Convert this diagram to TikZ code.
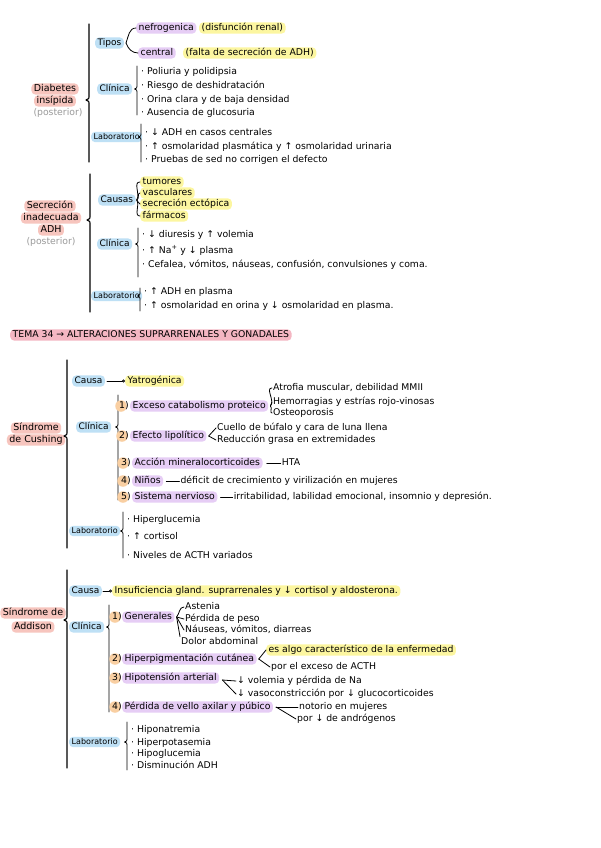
\documentclass[tikz,border=0pt]{standalone}
\usepackage{fontspec}
\setmainfont{DejaVu Sans}
\usetikzlibrary{arrows.meta}
\definecolor{hred}{HTML}{F7C5BE}
\definecolor{hblue}{HTML}{BEE0F5}
\definecolor{hpurple}{HTML}{E6CDF5}
\definecolor{hyellow}{HTML}{FCF6A0}
\definecolor{horange}{HTML}{F9CFA2}
\definecolor{htitle}{HTML}{F4B6C2}
\definecolor{gtext}{HTML}{9A9A9A}
\newcommand{\fs}{\fontsize{9.3}{10}\selectfont}
\newcommand{\fl}{\fontsize{8}{9}\selectfont}
\newcommand{\fc}{\fontsize{9}{10}\selectfont}
\newcommand{\fb}{\fontsize{9.5}{10}\selectfont}
\newcommand{\mybrace}[4]{\draw[brc] (#1,#2) -- (#1,#3-5) .. controls (#1,#3-1) .. (#1-3,#3) .. controls (#1,#3+1) .. (#1,#3+5) -- (#1,#4);}
\newcommand{\smbrace}[4]{\draw[sbrc] (#1,#2) -- (#1,#3-3) .. controls (#1,#3-1) .. (#1-2.5,#3) .. controls (#1,#3+1) .. (#1,#3+3) -- (#1,#4);}
\begin{document}
\begin{tikzpicture}[x=1pt,y=-1pt,
  t/.style={anchor=west,inner sep=1pt,font=\fs,text height=6.6pt,text depth=1.8pt},
  hl/.style={t,rounded corners=4pt,inner xsep=2.5pt,inner ysep=1.4pt},
  hlred/.style={hl,fill=hred,font=\fb,anchor=center},
  hlblue/.style={hl,fill=hblue,font=\fc},
  hllab/.style={hl,fill=hblue,font=\fl,text height=6pt,text depth=1.6pt},
  hlpurple/.style={hl,fill=hpurple},
  hlyellow/.style={hl,fill=hyellow},
  numc/.style={circle,fill=horange,inner sep=0pt,minimum size=11.5pt},
  numt/.style={t,anchor=center},
  brc/.style={line width=1.1pt,line cap=round,line join=round},
  sbrc/.style={line width=0.8pt,line cap=round,line join=round},
  fan/.style={line width=0.8pt,line cap=round}]
\useasboundingbox (0,0) rectangle (600,848);
\fill[white] (0,0) rectangle (600,848);

%% ---------- Diabetes insipida
\node[hlred] (di1) at (55,89) {Diabetes};
\node[hlred] (di2) at (55,101) {insípida};
\node[t,anchor=center,text=gtext] (di3) at (58,113) {(posterior)};
\mybrace{89}{24}{100}{162}
\node[hlblue] (tipos) at (95,43) {Tipos};
\node[hlpurple] (nefro) at (136,28) {nefrogenica};
\node[hlyellow] (nefro2) at (199,28) {(disfunción renal)};
\node[hlpurple] (central) at (138,53) {central};
\node[hlyellow] (central2) at (183,53) {(falta de secreción de ADH)};
\draw[fan] (tipos.east) ++(2,0) coordinate (tp) to[out=70,in=180] (nefro.west);
\draw[fan] (tp) to[out=-70,in=180] (central.west);
\node[hlblue] (cl1) at (97,89) {Clínica};
\smbrace{137}{66}{89}{115}
\node[t] (cl1a) at (140,72) {· Poliuria y polidipsia};
\node[t] (cl1b) at (140,86) {· Riesgo de deshidratación};
\node[t] (cl1c) at (140,100) {· Orina clara y de baja densidad};
\node[t] (cl1d) at (140,113) {· Ausencia de glucosuria};
\node[hllab] (lab1) at (91,137) {Laboratorio};
\smbrace{141}{124}{137}{162}
\node[t] (lab1a) at (144,133) {· ↓ ADH en casos centrales};
\node[t] (lab1b) at (144,147) {· ↑ osmolaridad plasmática y ↑ osmolaridad urinaria};
\node[t] (lab1c) at (144,160) {· Pruebas de sed no corrigen el defecto};

%% ---------- SIADH
\node[hlred] (si1) at (50,206) {Secreción};
\node[hlred] (si2) at (51,218) {inadecuada};
\node[hlred] (si3) at (51,230) {ADH};
\node[t,anchor=center,text=gtext] (si4) at (51,242) {(posterior)};
\mybrace{90}{174}{220}{312}
\node[hlblue] (caus2) at (98,200) {Causas};
\node[hlyellow] (ca1) at (140,182) {tumores};
\node[hlyellow] (ca2) at (140,193) {vasculares};
\node[hlyellow] (ca3) at (140,204) {secreción ectópica};
\node[hlyellow] (ca4) at (140,216) {fármacos};
\draw[fan] (caus2.east) ++(1,0) coordinate (cp) to[out=60,in=180] (ca1.west);
\draw[fan] (cp) to[out=20,in=180] (ca2.west);
\draw[fan] (cp) to[out=-20,in=180] (ca3.west);
\draw[fan] (cp) to[out=-60,in=180] (ca4.west);
\node[hlblue] (cl2) at (97,244) {Clínica};
\smbrace{138}{228}{244}{277}
\node[t] (cl2a) at (141,235) {· ↓ diuresis y ↑ volemia};
\node[t] (cl2b) at (141,251) {· ↑ Na\textsuperscript{+} y ↓ plasma};
\node[t] (cl2c) at (141,265) {· Cefalea, vómitos, náuseas, confusión, convulsiones y coma.};
\node[hllab] (lab2) at (91,296) {Laboratorio};
\smbrace{140}{288}{296}{311}
\node[t] (lab2a) at (143,292) {· ↑ ADH en plasma};
\node[t] (lab2b) at (143,306) {· ↑ osmolaridad en orina y ↓ osmolaridad en plasma.};

%% ---------- Title
\node[hl,fill=htitle] (tema) at (10,335) {TEMA 34 → ALTERACIONES SUPRARRENALES Y GONADALES};

%% ---------- Cushing
\node[hlred] (cu1) at (36,428) {Síndrome};
\node[hlred] (cu2) at (36,440) {de Cushing};
\mybrace{67}{360}{436}{548}
\node[hlblue] (caus3) at (72,381) {Causa};
\node[hlyellow] (yatro) at (125,381) {Yatrogénica};
\draw[fan,-{Circle[open,length=3pt]}] (caus3.east) ++(2,0) -- (yatro.west);
\node[hlblue] (cl3) at (76,427) {Clínica};
\smbrace{118}{395}{427}{500}
\node[numc] (n1) at (121,406) {};
\node[numt] at (124,406) {1)};
\node[hlpurple] (cu11) at (130,406) {Exceso catabolismo proteico};
\node[t] (cu11a) at (272,388) {Atrofia muscular, debilidad MMII};
\node[t] (cu11b) at (272,402) {Hemorragias y estrías rojo-vinosas};
\node[t] (cu11c) at (272,413) {Osteoporosis};
\draw[fan] (cu11.east) ++(2,0) coordinate (f1) to[out=45,in=180] (cu11a.west);
\draw[fan] (f1) -- (cu11b.west);
\draw[fan] (f1) to[out=-30,in=180] (cu11c.west);
\node[numc] (n2) at (122,436) {};
\node[numt] at (124,436) {2)};
\node[hlpurple] (cu12) at (130,436) {Efecto lipolítico};
\node[t] (cu12a) at (216,428) {Cuello de búfalo y cara de luna llena};
\node[t] (cu12b) at (216,440) {Reducción grasa en extremidades};
\draw[fan] (cu12.east) ++(2,0) coordinate (f2) -- (cu12a.west);
\draw[fan] (f2) -- (cu12b.west);
\node[numc] (n3) at (123,463) {};
\node[numt] at (126,463) {3)};
\node[hlpurple] (cu13) at (132,463) {Acción mineralocorticoides};
\path (cu13.east) ++(18,0) node[t] (cu13a) {HTA};
\draw[fan] (cu13.east) ++(4,0) -- (cu13a.west);
\node[numc] (n4) at (123,481) {};
\node[numt] at (126,481) {4)};
\node[hlpurple] (cu14) at (132,481) {Niños};
\path (cu14.east) ++(16,0) node[t] (cu14a) {déficit de crecimiento y virilización en mujeres};
\draw[fan] (cu14.east) ++(3,0) -- (cu14a.west);
\node[numc] (n5) at (123,497) {};
\node[numt] at (126,497) {5)};
\node[hlpurple] (cu15) at (132,497) {Sistema nervioso};
\path (cu15.east) ++(15,0) node[t] (cu15a) {irritabilidad, labilidad emocional, insomnio y depresión.};
\draw[fan] (cu15.east) ++(3,0) -- (cu15a.west);
\node[hllab] (lab3) at (69,531) {Laboratorio};
\smbrace{123}{512}{531}{558}
\node[t] (lab3a) at (126,520) {· Hiperglucemia};
\node[t] (lab3b) at (126,537) {· ↑ cortisol};
\node[t] (lab3c) at (126,556) {· Niveles de ACTH variados};

%% ---------- Addison
\node[hlred] (ad1) at (33,613) {Síndrome de};
\node[hlred] (ad2) at (33,627) {Addison};
\mybrace{67}{570}{620}{768}
\node[hlblue] (caus4) at (69,591) {Causa};
\node[hlyellow] (ins) at (112,591) {Insuficiencia gland. suprarrenales y ↓ cortisol y aldosterona.};
\draw[fan,-{Circle[open,length=3pt]}] (caus4.east) ++(1,0) -- (ins.west);
\node[hlblue] (cl4) at (69,627) {Clínica};
\smbrace{109}{605}{627}{712}
\node[numc] (m1) at (115,617) {};
\node[numt] at (117,617) {1)};
\node[hlpurple] (ad11) at (122,617) {Generales};
\node[t] (ad11a) at (184,607) {Astenia};
\node[t] (ad11b) at (184,619) {Pérdida de peso};
\node[t] (ad11c) at (184,630) {Náuseas, vómitos, diarreas};
\node[t] (ad11d) at (180,642) {Dolor abdominal};
\draw[fan] (ad11.east) ++(2,0) coordinate (g1) to[out=50,in=180] (ad11a.west);
\draw[fan] (g1) -- (ad11b.west);
\draw[fan] (g1) -- (ad11c.west);
\draw[fan] (g1) -- (ad11d.north west);
\node[numc] (m2) at (115,659) {};
\node[numt] at (117,659) {2)};
\node[hlpurple] (ad12) at (122,659) {Hiperpigmentación cutánea};
\node[hlyellow] (ad12a) at (266,650) {es algo característico de la enfermedad};
\node[t] (ad12b) at (270,667) {por el exceso de ACTH};
\draw[fan] (ad12.east) ++(2,0) coordinate (g2) -- (ad12a.west);
\draw[fan] (g2) -- (ad12b.west);
\node[numc] (m3) at (115,678) {};
\node[numt] at (117,678) {3)};
\node[hlpurple] (ad13) at (122,678) {Hipotensión arterial};
\node[t] (ad13a) at (236,681) {↓ volemia y pérdida de Na};
\node[t] (ad13b) at (236,694) {↓ vasoconstricción por ↓ glucocorticoides};
\draw[fan] (ad13.east) ++(3,2) coordinate (g3) -- (ad13a.west);
\draw[fan] (g3) -- (ad13b.west);
\node[numc] (m4) at (115,707) {};
\node[numt] at (117,707) {4)};
\node[hlpurple] (ad14) at (122,707) {Pérdida de vello axilar y púbico};
\node[t] (ad14a) at (298,707) {notorio en mujeres};
\node[t] (ad14b) at (296,719) {por ↓ de andrógenos};
\draw[fan] (ad14.east) ++(3,0) coordinate (g4) -- (ad14a.west);
\draw[fan] (g4) -- (ad14b.west);
\node[hllab] (lab4) at (69,742) {Laboratorio};
\smbrace{127}{722}{742}{770}
\node[t] (lab4a) at (130,730) {· Hiponatremia};
\node[t] (lab4b) at (130,743) {· Hiperpotasemia};
\node[t] (lab4c) at (130,754) {· Hipoglucemia};
\node[t] (lab4d) at (130,766) {· Disminución ADH};
\end{tikzpicture}
\end{document}
